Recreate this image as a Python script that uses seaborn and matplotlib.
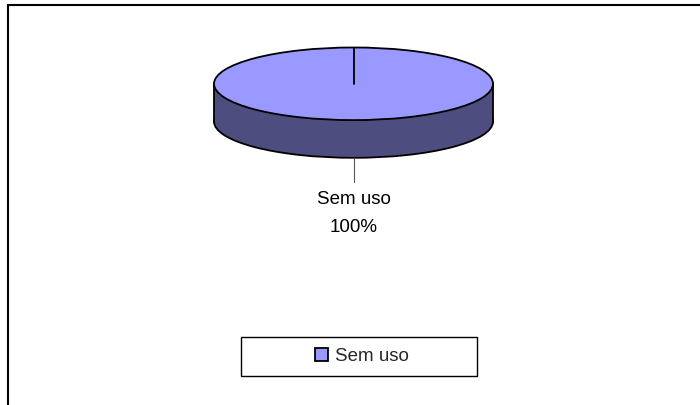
import numpy as np
import matplotlib
matplotlib.use("Agg")
import matplotlib.pyplot as plt
from matplotlib.patches import Rectangle
import seaborn as sns

# Data
categories = ["Sem uso"]
values = [100]
percent_labels = ["100%"]

TOP_COLOR = "#9999FF"
SIDE_COLOR = "#4D4D80"

sns.set_theme(style="white")
plt.rcParams["font.family"] = ["Liberation Sans", "DejaVu Sans"]

W, H = 700, 405
fig = plt.figure(figsize=(W / 100, H / 100), dpi=100)
fig.patch.set_facecolor("white")

# pixel geometry for the pie axes
cx, cy = 353.5, 83.8      # top ellipse centre (px, from top)
a_px, b_px = 139.5, 36.3  # semi axes
depth_px = 37.7
xlim = (-1.3, 1.3)
ylim = (-4.2, 1.3)
ax_w = (xlim[1] - xlim[0]) * a_px
ax_h = (ylim[1] - ylim[0]) * b_px
ax_left = cx + xlim[0] * a_px
ax_top = cy - ylim[1] * b_px
ax = fig.add_axes([ax_left / W, (H - ax_top - ax_h) / H, ax_w / W, ax_h / H])
depth = depth_px / b_px

start = 90
LW = 1.3
edge = dict(edgecolor="black", linewidth=LW)

# bottom (side) disc
ax.pie(values, colors=[SIDE_COLOR], startangle=start, center=(0, -depth),
       radius=1, wedgeprops=edge, frame=True)
# side body
ax.fill_between([-1, 1], [-depth, -depth], [0, 0], color=SIDE_COLOR, linewidth=0)
ax.plot([-1, -1], [0, -depth], color="black", lw=LW, zorder=3)
ax.plot([1, 1], [0, -depth], color="black", lw=LW, zorder=3)
# top disc
wedges, _ = ax.pie(values, colors=[TOP_COLOR], startangle=start, center=(0, 0),
                   radius=1, wedgeprops=edge, frame=True)
for w in wedges:
    w.set_zorder(4)
# slice boundary line
th = np.deg2rad(start)
ax.plot([0, np.cos(th)], [0, np.sin(th)], color="black", lw=LW, zorder=5)

# label with leader line (midpoint of single slice at start+180)
mid = np.deg2rad(start + 180 * values[0] / 100.0)
y_edge = np.sin(mid) * 1 - depth
leader_len = (181.7 - 157.7) / b_px
ax.plot([0, 0], [y_edge, y_edge - leader_len], color="#555555", lw=0.8, zorder=5)
ax.text(0, -(199.5 - cy) / b_px, categories[0], ha="center",
        va="center", fontsize=13.5, color="black")
ax.text(0, -(227 - cy) / b_px, percent_labels[0], ha="center",
        va="center", fontsize=13.5, color="black")

ax.set_aspect("auto")
ax.set_xlim(*xlim)
ax.set_ylim(*ylim)
ax.set_axis_off()

# legend
leg = fig.legend(wedges, categories, loc="center", frameon=False,
                 bbox_to_anchor=(362 / W, 1 - 356.5 / H), fontsize=13.5,
                 handlelength=0.66, handleheight=0.66, handletextpad=0.4,
                 borderpad=0.3)
fig.patches.append(Rectangle((241 / W, 1 - 376 / H), 236 / W, 39 / H,
                             transform=fig.transFigure, fill=False,
                             edgecolor="black", linewidth=1.0))

# outer chart frame (left & top visible)
fig.patches.append(Rectangle((8 / W, -0.1), 1.0, 1 - 5 / H + 0.1,
                             transform=fig.transFigure, fill=False,
                             edgecolor="black", linewidth=1.5))

fig.savefig("out.png", dpi=100, facecolor="white")
